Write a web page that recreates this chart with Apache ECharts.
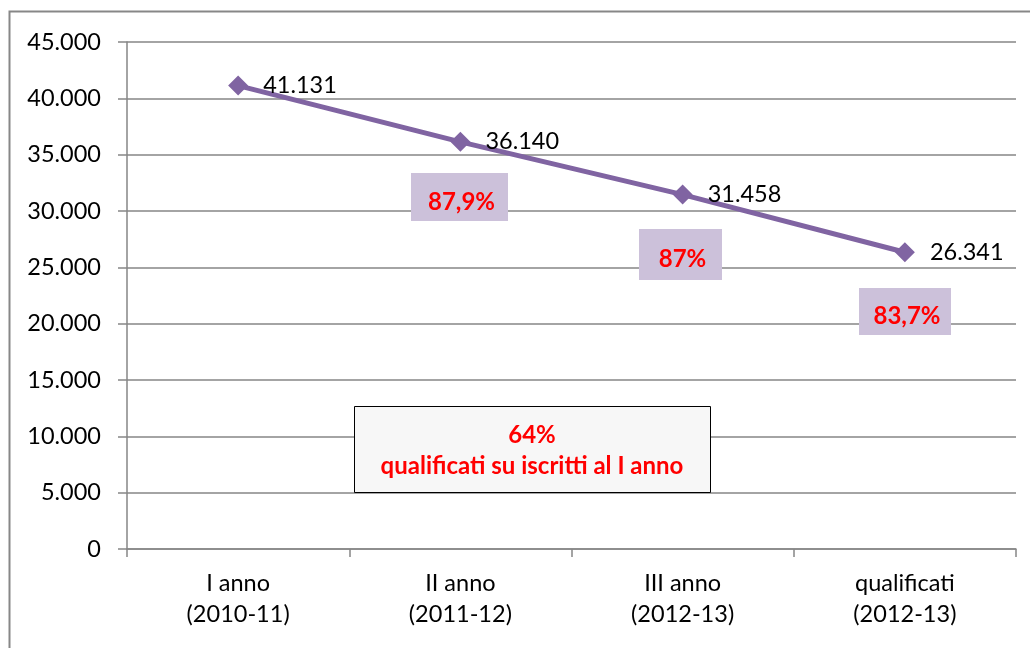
<!DOCTYPE html>
<html><head><meta charset="utf-8">
<script src="https://cdn.jsdelivr.net/npm/echarts@6/dist/echarts.min.js"></script>
<style>html,body{margin:0;padding:0;background:#fff}#c{width:1030px;height:648px}</style>
</head><body><div id="c"></div>
<script>
var categories = ['I anno\n(2010-11)', 'II anno\n(2011-12)', 'III anno\n(2012-13)', 'qualificati\n(2012-13)'];
var iscritti = [41131, 36140, 31458, 26341];
var yTicks = [0, 5000, 10000, 15000, 20000, 25000, 30000, 35000, 40000, 45000];
var pctLabels = ['87,9%', '87%', '83,7%'];
var summaryLabels = ['64%', 'qualificati su iscritti al I anno'];

function fmt(v){ return String(v).replace(/\B(?=(\d{3})+(?!\d))/g, '.'); }
var FONT = 'Lato';
var FS = 23.5;
var chart = echarts.init(document.getElementById('c'), null, {renderer:'canvas'});
var pctBoxes = [[411,173,97,48],[639,229,83,51],[859,288,92,47]];
var graphics = [
  {type:'rect', shape:{x:9.5,y:11.5,width:1040,height:700}, style:{fill:null, stroke:'#878787', lineWidth:2}, z:0}
];
pctBoxes.forEach(function(b,i){
  graphics.push({type:'rect', shape:{x:b[0],y:b[1],width:b[2],height:b[3]}, style:{fill:'#CCC1DA'}, z:10});
  graphics.push({type:'text', x:b[0]+b[2]/2+2, y:b[1]+b[3]/2+5, style:{text:pctLabels[i], fill:'#FF0000', font:'bold 24px '+FONT, textAlign:'center', textVerticalAlign:'middle'}, z:11});
});
graphics.push({type:'rect', shape:{x:354.5,y:406.5,width:356,height:86}, style:{fill:'#F7F7F7', stroke:'#000', lineWidth:1}, z:10});
graphics.push({type:'text', x:532, y:435, style:{text:summaryLabels[0], fill:'#FF0000', font:'bold 24px '+FONT, textAlign:'center', textVerticalAlign:'middle'}, z:11});
graphics.push({type:'text', x:532, y:466, style:{text:summaryLabels[1], fill:'#FF0000', font:'bold 24px '+FONT, textAlign:'center', textVerticalAlign:'middle'}, z:11});

chart.setOption({
  animation:false,
  textStyle:{fontFamily:FONT},
  grid:{left:127, right:14, top:42, bottom:99, containLabel:false},
  xAxis:{
    type:'category', data:categories, boundaryGap:true,
    axisLine:{lineStyle:{color:'#868686', width:1.5}},
    axisTick:{show:true, length:8, alignWithLabel:false, lineStyle:{color:'#868686', width:1.5}},
    axisLabel:{color:'#000', fontSize:FS, fontFamily:FONT, lineHeight:31, margin:19, interval:0}
  },
  yAxis:{
    type:'value', min:yTicks[0], max:yTicks[yTicks.length-1], interval:yTicks[1]-yTicks[0],
    axisLine:{show:true, lineStyle:{color:'#868686', width:1.5}},
    axisTick:{show:true, length:9, lineStyle:{color:'#868686', width:1.5}},
    axisLabel:{color:'#000', fontSize:FS, fontFamily:FONT, margin:26, formatter:function(v){return fmt(v);}},
    splitLine:{show:true, lineStyle:{color:'#868686', width:1.5}}
  },
  series:[{
    type:'line', data:iscritti,
    symbol:'diamond', symbolSize:[20,20], showAllSymbol:true,
    lineStyle:{color:'#8064A2', width:5},
    itemStyle:{color:'#8064A2'},
    label:{show:true, position:'right', distance:15, color:'#000', fontSize:FS, fontFamily:FONT, formatter:function(p){return fmt(p.value);}},
    z:5
  }],
  graphic:graphics
});
</script></body></html>
